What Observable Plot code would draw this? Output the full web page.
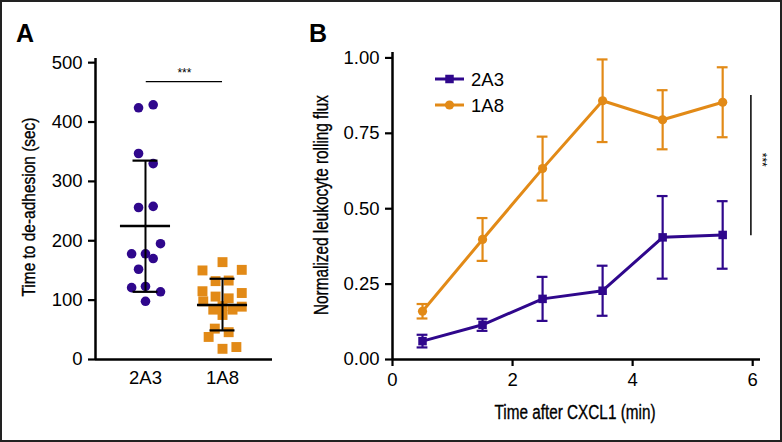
<!DOCTYPE html>
<html><head><meta charset="utf-8">
<script src="https://cdn.jsdelivr.net/npm/d3@7"></script>
<script src="https://cdn.jsdelivr.net/npm/@observablehq/plot@0.6"></script>
<style>
body{margin:0;background:#fff;}
#fig{position:relative;width:782px;height:442px;overflow:hidden;background:#fff;}
.panel{position:absolute;top:0;}
#overlay{position:absolute;left:0;top:0;}
</style></head><body>
<div id="fig"></div>
<script>
// ---------- data ----------
const groups = ["2A3", "1A8"];
const colors = ["#2f078c", "#e28a17"];

// Panel A: time to de-adhesion (sec), with horizontal scatter offset (in category units)
const valsA_2A3 = [424, 429, 347, 330, 256, 258, 195, 178, 178, 170, 152, 121, 123, 114, 98];
const jitA_2A3  = [-0.09, 0.10, -0.09, 0.10, -0.09, 0.10, 0.195, -0.18, 0, 0.10, -0.09, -0.18, 0, 0.195, 0];
const valsA_1A8 = [164, 150, 151, 132, 133, 115, 112, 106, 103, 98, 89, 84, 84, 90, 75, 52, 46, 38, 18, 21];
const jitA_1A8  = [0, -0.26, 0.25, -0.09, 0.08, -0.26, 0.25, -0.09, 0.08, -0.25, 0.25, -0.12, 0.13, 0, 0, -0.1, 0.08, -0.18, 0, 0.18];
const meanA = [225, 92];
const sdLoA = [114, 49];
const sdHiA = [335, 136];
const yTicksA = [0, 100, 200, 300, 400, 500];

// Panel B: normalized leukocyte rolling flux
const timesB = [0.5, 1.5, 2.5, 3.5, 4.5, 5.5];
const mean2A3 = [0.061, 0.115, 0.201, 0.228, 0.405, 0.413];
const err2A3  = [0.021, 0.020, 0.073, 0.083, 0.137, 0.112];
const mean1A8 = [0.160, 0.398, 0.633, 0.858, 0.795, 0.853];
const err1A8  = [0.024, 0.071, 0.106, 0.137, 0.098, 0.116];
const xTicksB = [0, 2, 4, 6];
const yTicksB = [0, 0.25, 0.5, 0.75, 1.0];

// ---------- build tables ----------
const font = "Liberation Sans, Arial, sans-serif";
const tickFont = 18.5;
const rowsA = [
  ...valsA_2A3.map((v, k) => ({g: 0, x: 1 + jitA_2A3[k], y: v})),
  ...valsA_1A8.map((v, k) => ({g: 1, x: 2 + jitA_1A8[k], y: v}))
];
const statsA = groups.map((g, i) => ({x: i + 1, mean: meanA[i], lo: sdLoA[i], hi: sdHiA[i]}));
const capsA = statsA.flatMap(d => [{x: d.x, y: d.lo}, {x: d.x, y: d.hi}]);
const xDomA = [0.351, 2.649];
const sigA = [{x1: 1.01, x2: 2.0, y: 468}];

const seriesB = [
  {g: "2A3", mean: mean2A3, err: err2A3, color: colors[0], symbol: "square", r: 4.8},
  {g: "1A8", mean: mean1A8, err: err1A8, color: colors[1], symbol: "circle", r: 4.6}
];
const rowsB = seriesB.flatMap(s => timesB.map((t, k) => ({g: s.g, x: t, y: s.mean[k], lo: s.mean[k] - s.err[k], hi: s.mean[k] + s.err[k]})));
const xDomB = [0, 6.13];
const yDomB = [0, 1.018];
const sigB = [{x: 5.97, y1: 0.41, y2: 0.875}];

// ---------- Panel A ----------
const plotA = Plot.plot({
  width: 300, height: 442,
  marginLeft: 95, marginRight: 28, marginTop: 58, marginBottom: 83,
  x: {domain: xDomA},
  y: {domain: [0, 507]},
  style: {fontFamily: font, fontSize: tickFont + "px", color: "#000", background: "transparent"},
  marks: [
    Plot.axisY({ticks: yTicksA, tickSize: 7, tickPadding: 6, strokeWidth: 2.2, label: null, fontSize: tickFont}),
    Plot.axisX({ticks: [1, 2], tickFormat: i => groups[i - 1], tickSize: 0, tickPadding: 11, label: null, fontSize: tickFont}),
    Plot.ruleX([xDomA[0]], {strokeWidth: 2.5}),
    Plot.ruleY([0], {strokeWidth: 2.5}),
    Plot.dot(rowsA.filter(d => d.g === 0), {x: "x", y: "y", r: 4.8, fill: colors[0], symbol: "circle"}),
    Plot.dot(rowsA.filter(d => d.g === 1), {x: "x", y: "y", r: 5.6, fill: colors[1], symbol: "square"}),
    Plot.ruleX(statsA, {x: "x", y1: "lo", y2: "hi", strokeWidth: 2}),
    Plot.ruleY(statsA, {y: "mean", x1: d => d.x - 0.325, x2: d => d.x + 0.325, strokeWidth: 2.5}),
    Plot.ruleY(capsA, {y: "y", x1: d => d.x - 0.162, x2: d => d.x + 0.162, strokeWidth: 2.2}),
    Plot.ruleY(sigA, {y: "y", x1: "x1", x2: "x2", strokeWidth: 1.3}),
    Plot.text(sigA, {x: d => (d.x1 + d.x2) / 2, y: "y", text: () => "***", dy: -8, fontSize: 12})
  ]
});

// ---------- Panel B ----------
const plotB = Plot.plot({
  width: 482, height: 442,
  marginLeft: 92, marginRight: 22, marginTop: 52, marginBottom: 83,
  x: {domain: xDomB},
  y: {domain: yDomB},
  style: {fontFamily: font, fontSize: tickFont + "px", color: "#000", background: "transparent"},
  marks: [
    Plot.axisY({ticks: yTicksB, tickFormat: d3.format(".2f"), tickSize: 7, tickPadding: 6, strokeWidth: 2.2, label: null, fontSize: tickFont}),
    Plot.axisX({ticks: xTicksB, tickFormat: d3.format("d"), tickSize: 7, tickPadding: 6, strokeWidth: 2.2, label: null, fontSize: tickFont}),
    Plot.ruleX([xDomB[0]], {strokeWidth: 2.5}),
    Plot.ruleY([0], {strokeWidth: 2.5}),
    ...seriesB.flatMap(s => {
      const rows = rowsB.filter(d => d.g === s.g);
      const caps = rows.flatMap(d => [{x: d.x, y: d.lo}, {x: d.x, y: d.hi}]);
      return [
        Plot.ruleX(rows, {x: "x", y1: "lo", y2: "hi", stroke: s.color, strokeWidth: 2.2}),
        Plot.ruleY(caps, {y: "y", x1: d => d.x - 0.09, x2: d => d.x + 0.09, stroke: s.color, strokeWidth: 2.2}),
        Plot.line(rows, {x: "x", y: "y", stroke: s.color, strokeWidth: 3}),
        Plot.dot(rows, {x: "x", y: "y", fill: s.color, r: s.r, symbol: s.symbol})
      ];
    }),
    Plot.ruleX(sigB, {x: "x", y1: "y1", y2: "y2", strokeWidth: 1.5}),
    Plot.text(sigB, {x: "x", y: d => (d.y1 + d.y2) / 2 + 0.02, text: () => "***", dx: 11, rotate: 90, fontSize: 12})
  ]
});

const fig = document.getElementById("fig");
plotA.classList.add("panel"); plotA.style.left = "0px";
plotB.classList.add("panel"); plotB.style.left = "300px";
fig.appendChild(plotA);
fig.appendChild(plotB);

// ---------- overlay: panel letters, axis titles, legend, frame ----------
const svg = d3.select(fig).append("svg").attr("id", "overlay")
  .attr("width", 782).attr("height", 442)
  .style("font-family", font);

svg.append("text").attr("x", 16).attr("y", 42).attr("font-size", 25).attr("font-weight", "bold").text("A");
svg.append("text").attr("x", 309).attr("y", 42).attr("font-size", 25).attr("font-weight", "bold").text("B");

function title(txt, cx, cy, len, rot, size) {
  svg.append("text")
    .attr("transform", `translate(${cx},${cy}) rotate(${rot})`)
    .attr("text-anchor", "middle").attr("dy", "0.35em")
    .attr("font-size", size)
    .attr("stroke", "#000").attr("stroke-width", 0.35)
    .attr("textLength", len).attr("lengthAdjust", "spacingAndGlyphs")
    .text(txt);
}
title("Time to de-adhesion (sec)", 28, 207, 179, -90, 19);
title("Normalized leukocyte rolling flux", 321, 205, 220, -90, 19.5);
title("Time after CXCL1 (min)", 575, 412, 161, 0, 20);

// legend
const legendY = [79, 105];
seriesB.forEach((s, i) => {
  const g = svg.append("g").attr("transform", `translate(0,${legendY[i]})`);
  g.append("line").attr("x1", 435).attr("x2", 464).attr("stroke", s.color).attr("stroke-width", 3);
  g.append("path").attr("transform", "translate(449.5,0)")
    .attr("d", d3.symbol(s.symbol === "square" ? d3.symbolSquare : d3.symbolCircle, Math.PI * s.r * s.r)())
    .attr("fill", s.color);
  g.append("text").attr("x", 471).attr("dy", "0.36em").attr("font-size", tickFont).text(s.g);
});

svg.append("rect").attr("x", 1).attr("y", 1).attr("width", 780).attr("height", 440)
  .attr("fill", "none").attr("stroke", "#222").attr("stroke-width", 2);
</script>
</body></html>
